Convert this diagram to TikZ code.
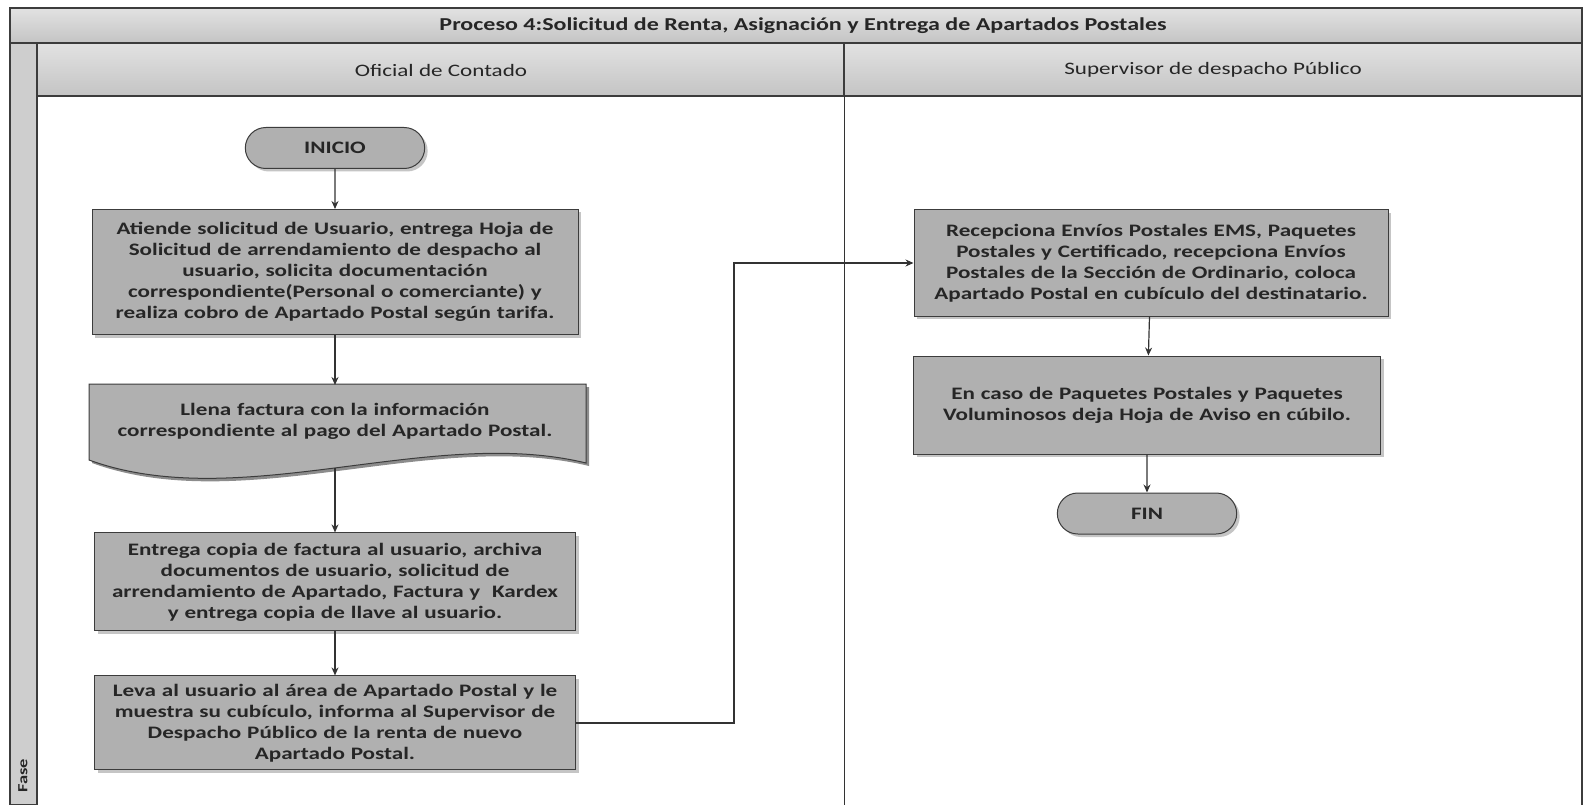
\documentclass[tikz,border=0pt]{standalone}
\usepackage{fontspec}
\setmainfont{Carlito}[FakeStretch=1.32]
\usetikzlibrary{shapes,arrows.meta,positioning,shadows,calc}
\definecolor{boxgray}{RGB}{176,176,176}
\definecolor{bartop}{RGB}{226,226,226}
\definecolor{barbot}{RGB}{196,196,196}
\definecolor{fasegray}{RGB}{206,206,206}
\definecolor{inkgray}{RGB}{60,60,60}

\begin{document}
\begin{tikzpicture}[x=1pt,y=-1pt,% styles for the whole chart
      every node/.style={
        align=center,      % "\\" breaks the lines
        text=black!85,
        font=\fontsize{17.5}{21}\selectfont\bfseries
      },
      proc/.style={rectangle,draw=inkgray,line width=1pt,fill=boxgray,
        inner sep=4pt,
        drop shadow={shadow xshift=3pt,shadow yshift=-3pt,opacity=.45}},
      term/.style={rounded rectangle,draw=inkgray,line width=1pt,fill=boxgray,
        minimum width=186pt,minimum height=41pt,
        drop shadow={shadow xshift=3pt,shadow yshift=-3pt,opacity=.45}},
      lane/.style={font=\fontsize{17.5}{21}\selectfont},
      bar/.style={draw=inkgray,line width=1.2pt,top color=bartop,bottom color=barbot},
      every edge/.style={draw,line width=1.2pt,draw=black!80}
    ]
    \useasboundingbox (0,0) rectangle (1583,805);
    \fill[white] (0,0) rectangle (1583,805);

    % frame: title, lane headers, phase column
    \path[bar] (10,8) rectangle (1582,43);
    \path[bar] (37,43) rectangle (844,96);
    \path[bar] (844,43) rectangle (1582,96);
    \path[draw=inkgray,line width=1.2pt,fill=fasegray] (10,43) rectangle (37,805);
    \draw[line width=1pt,black!80] (844,96) -- (844,805);
    \draw[line width=1.2pt,inkgray] (1582,96) -- (1582,805);

    \node[font=\fontsize{18.2}{21}\selectfont\bfseries](T0) at (803,26){Proceso 4:Solicitud de Renta, Asignación y Entrega de Apartados Postales};
    \node[lane](L1) at (441,70){Oficial de Contado};
    \node[lane](L2) at (1213,70){Supervisor de despacho Público};
    \node[font=\fontsize{14}{16}\selectfont\bfseries,rotate=90](F0) at (23,776){Fase};

    % Oficial de Contado
    \node[term](R1) at (335,148){INICIO};
    \node[proc,text width=478pt,minimum height=125pt](R2)[below=40pt of R1]
      {Atiende solicitud de Usuario, entrega Hoja de \\ Solicitud de arrendamiento de despacho al \\ usuario, solicita documentación \\ correspondiente(Personal o comerciante) y \\ realiza cobro de Apartado Postal según tarifa.};
    \fill[black,opacity=.45] (92,387) -- (589,387) -- (589,466)
      .. controls (433,428) and (243,518) .. (92,463) -- cycle;
    \fill[boxgray,draw=inkgray,line width=1pt] (89,384) -- (586,384) -- (586,463)
      .. controls (430,425) and (240,515) .. (89,460) -- cycle;
    \node[text width=489pt,minimum height=72pt](R3)[below=50pt of R2]
      {Llena factura con la información \\ correspondiente al pago del Apartado Postal.};
    \coordinate (R3b) at (335,468);
    \node[proc,text width=473pt,minimum height=98pt](R4)[below=75pt of R3]
      {Entrega copia de factura al usuario, archiva \\ documentos de usuario, solicitud de \\ arrendamiento de Apartado, Factura y \ Kardex \\ y entrega copia de llave al usuario.};
    \node[proc,text width=473pt,minimum height=94pt](R5)[below=44pt of R4]
      {Leva al usuario al área de Apartado Postal y le \\ muestra su cubículo, informa al Supervisor de \\ Despacho Público de la renta de nuevo \\ Apartado Postal.};

    % Supervisor de despacho Publico
    \node[proc,text width=466pt,minimum height=106pt](R6) at (1151,263)
      {Recepciona Envíos Postales EMS, Paquetes \\ Postales y Certificado, recepciona Envíos \\ Postales de la Sección de Ordinario, coloca \\ Apartado Postal en cubículo del destinatario.};
    \node[proc,text width=459pt,minimum height=98pt](R7)[below=39pt of R6,xshift=-4pt]
      {En caso de Paquetes Postales y Paquetes \\ Voluminosos deja Hoja de Aviso en cúbilo.};
    \node[term](R8)[below=38pt of R7]{FIN};

    \coordinate (K) at (734,0);
    \path[-{Stealth[length=8pt,width=7pt]}]
    (R1)edge [] node [] {} (R2)
    (R2)edge [] node [] {} (R3)
    (R3b)edge [] node [] {} (R3b |- R4.north)
    (R4)edge [] node [] {} (R5)
    (R6)edge [] node [] {} (R7)
    (R7)edge [] node [] {} (R8)
    ;
    \draw[line width=1.2pt,black!80,-{Stealth[length=8pt,width=7pt]}]
      (R5.east) -- (R5.east -| K) -- (K |- R6.west) -- (R6.west);
  \end{tikzpicture}
\end{document}
